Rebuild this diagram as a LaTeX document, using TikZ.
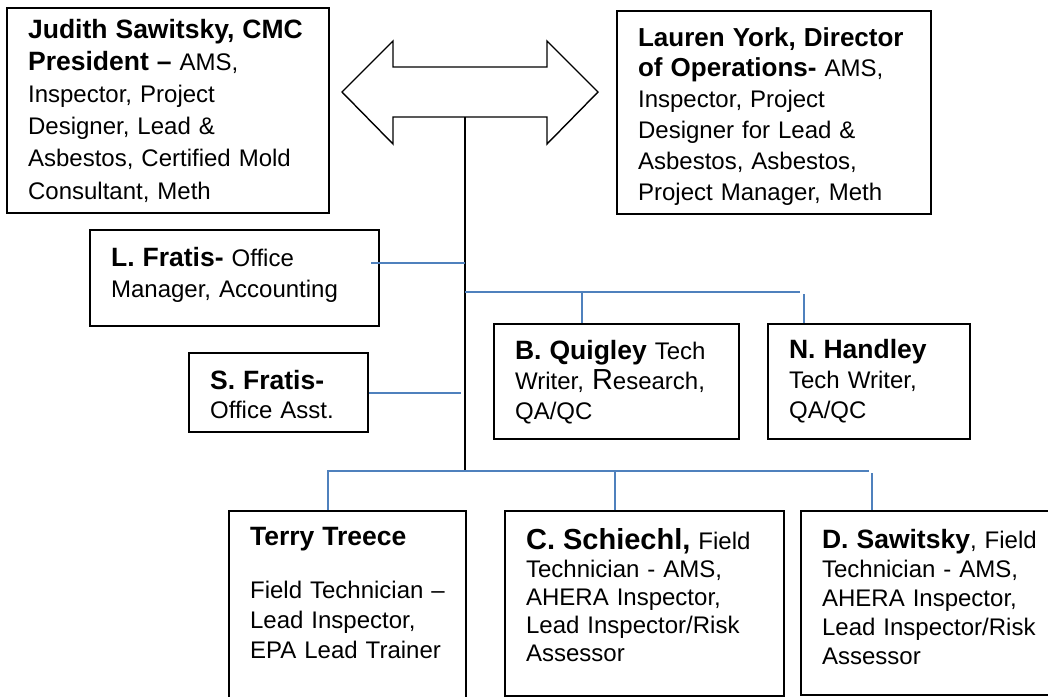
\documentclass[tikz,border=0pt]{standalone}
\usepackage{fontspec}
\setmainfont{Liberation Sans}
\usepackage{xcolor}
\definecolor{linkblue}{RGB}{79,129,189}

\newcommand{\hd}[2][26.5]{{\fontsize{#1}{30}\selectfont\bfseries #2}}
\newcommand{\rag}{\rightskip=0pt plus 1fil minus 40pt\relax}

\begin{document}
\begin{tikzpicture}[
    x=1pt, y=-1pt,
    person/.style={draw, line width=2.2pt, anchor=north west, inner xsep=21pt, inner ysep=0pt,
                   font=\fontsize{24}{30}\selectfont, execute at begin node=\rag},
    link/.style={draw=linkblue, line width=1.8pt},
    trunk/.style={draw=black, line width=1.6pt}
]
   \useasboundingbox (0,0) rectangle (1048,696);

   % People
   \node[person, text width=280pt, text height=30pt, text depth=175pt, font=\fontsize{24}{32.2}\selectfont] (judith) at (6,7)
        {\hd{Judith Sawitsky, CMC}\\ \hd{President –} AMS,\\ Inspector, Project\\ Designer, Lead \&\\ Asbestos, Certified Mold\\ Consultant, Meth};
   \node[person, text width=272pt, text height=35pt, text depth=168pt, font=\fontsize{24}{30.8}\selectfont] (york) at (616,10)
        {\hd[26]{Lauren York, Director}\\ \hd[26]{of Operations-} AMS,\\ Inspector, Project\\ Designer for Lead \&\\ Asbestos, Asbestos,\\ Project Manager, Meth};
   \node[person, text width=247pt, text height=36pt, text depth=60pt, font=\fontsize{24}{31}\selectfont] (lfratis) at (89,229)
        {\hd{L. Fratis-} Office\\ Manager, Accounting};
   \node[person, text width=137pt, text height=36pt, text depth=43pt, font=\fontsize{24}{29}\selectfont] (sfratis) at (188,352)
        {\hd{S. Fratis-}\\ Office Asst.};
   \node[person, text width=203pt, text height=35pt, text depth=80pt] (quigley) at (493,323)
        {\hd{B. Quigley} Tech\\ Writer, {\fontsize{29}{30}\selectfont R}esearch,\\ QA/QC};
   \node[person, text width=160pt, text height=34pt, text depth=81pt] (handley) at (767,323)
        {\hd{N. Handley}\\ Tech Writer,\\ QA/QC};
   \node[person, text width=195pt, text height=34pt, text depth=180pt] (treece) at (228,510)
        {\hd{Terry Treece}\\[23pt] Field Technician~–\\ Lead Inspector,\\ EPA Lead Trainer};
   \node[person, text width=237pt, text height=38pt, text depth=147pt, font=\fontsize{24}{28}\selectfont] (schiechl) at (504,510)
        {\hd[29]{C. Schiechl,} Field\\ Technician - AMS,\\ AHERA Inspector,\\ Lead Inspector/Risk\\ Assessor};
   \node[person, text width=230pt, text height=37pt, text depth=147pt, font=\fontsize{24}{29}\selectfont] (sawitsky) at (800,510)
        {\hd{D. Sawitsky}, Field\\ Technician - AMS,\\ AHERA Inspector,\\ Lead Inspector/Risk\\ Assessor};

   % Double arrow between the two heads
   \draw[line width=1.4pt] (342,92) -- (393,41) -- (393,67) -- (547,67) -- (547,41) -- (598,92)
        -- (547,144) -- (547,117) -- (393,117) -- (393,144) -- cycle;

   % Lines
   \coordinate (hub) at (465,117);
   \coordinate (bar) at (465,292);
   \coordinate (base) at (465,471);
   \draw[trunk] (hub) -- (base);

   \draw[link] ([shift={(-9,34)}]lfratis.north east) coordinate (lf) -- (lf -| hub);
   \draw[link] (sfratis.east) -- ([xshift=-4pt]sfratis.east -| hub);

   \draw[link] (bar) -- ([xshift=33pt]handley.north west |- bar);
   \draw[link] ([xshift=89pt]quigley.north west) -- +(0,-31);
   \draw[link] ([xshift=37pt]handley.north west) -- +(0,-29);

   \draw[link] ([xshift=100pt]treece.north west) |- ([xshift=69pt]sawitsky.north west |- base);
   \draw[link] ([xshift=111pt]schiechl.north west) -- +(0,-39);
   \draw[link] ([xshift=72pt]sawitsky.north west) -- +(0,-37);

\end{tikzpicture}
\end{document}
